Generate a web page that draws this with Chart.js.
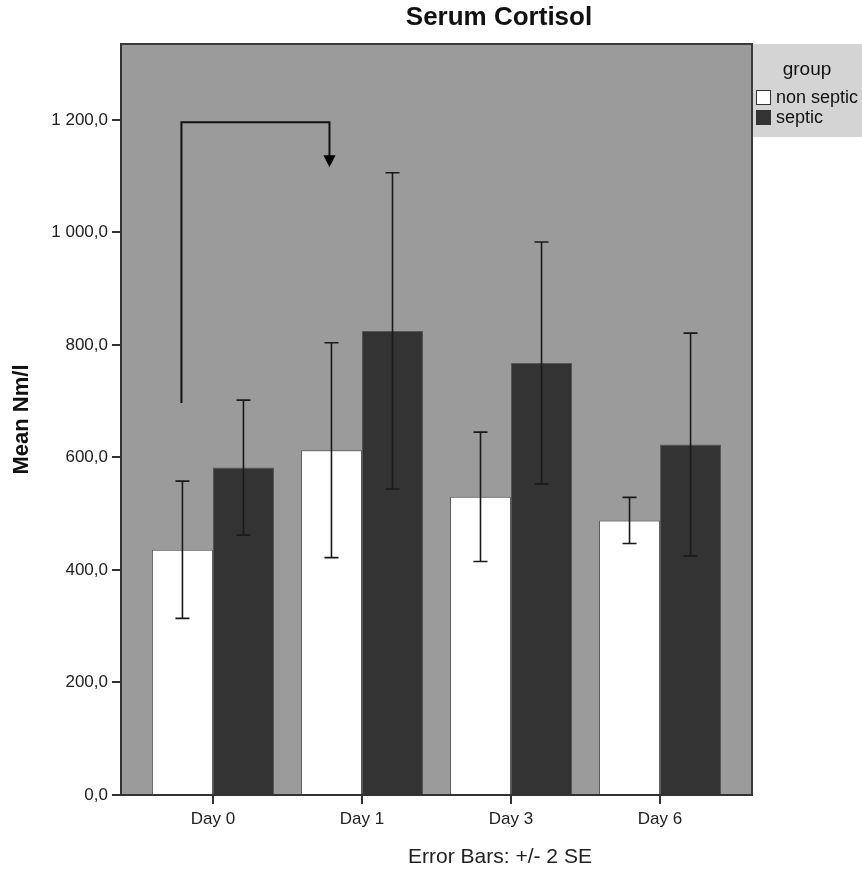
<!DOCTYPE html>
<html>
<head>
<meta charset="utf-8">
<title>Serum Cortisol</title>
<script src="https://cdn.jsdelivr.net/npm/chart.js@4.4.1/dist/chart.umd.min.js"></script>
<style>
  html, body { margin: 0; padding: 0; background: #fff; }
  #wrap { position: relative; width: 862px; height: 869px; }
</style>
</head>
<body>
<div id="wrap"><canvas id="chart"></canvas></div>
<script>
// days and group means (nmol/l) with +/- 2 SE
const days = ["Day 0", "Day 1", "Day 3", "Day 6"];
const groups = ["non septic", "septic"];
const nonSepticMean = [436, 613, 530, 488];
const nonSepticErr = [122, 191, 115, 41];
const septicMean = [582, 825, 768, 623];
const septicErr = [120, 281, 215, 198];
const yTicks = [0, 200, 400, 600, 800, 1000, 1200];

// bracket from Day 0 to Day 1 (non septic)
const bracketStart = 697;
const bracketTop = 1196;
const arrowTip = 1116;

const FONT = "'Liberation Sans', Arial, sans-serif";

function fmt(v) {
  let s = v.toFixed(1).replace(".", ",");
  let [int, dec] = s.split(",");
  int = int.replace(/\B(?=(\d{3})+(?!\d))/g, " ");
  return int + "," + dec;
}

// gray plot background
const plotBg = {
  id: "plotBg",
  beforeDraw(chart) {
    const { ctx, chartArea: a } = chart;
    ctx.save();
    ctx.fillStyle = "#9b9b9b";
    ctx.fillRect(a.left, a.top, a.right - a.left, a.bottom - a.top);
    ctx.restore();
  }
};

// error bars, bracket arrow, frame, legend and texts
const extras = {
  id: "extras",
  afterDatasetsDraw(chart) {
    const { ctx, scales: { y } } = chart;
    const errs = [nonSepticErr, septicErr];
    ctx.save();
    ctx.strokeStyle = "#1a1a1a";
    ctx.lineWidth = 1.6;
    chart.data.datasets.forEach((ds, di) => {
      const meta = chart.getDatasetMeta(di);
      meta.data.forEach((bar, i) => {
        const m = ds.data[i].y;
        const hi = y.getPixelForValue(m + errs[di][i]);
        const lo = y.getPixelForValue(m - errs[di][i]);
        ctx.beginPath();
        ctx.moveTo(bar.x, hi); ctx.lineTo(bar.x, lo);
        ctx.moveTo(bar.x - 7, hi); ctx.lineTo(bar.x + 7, hi);
        ctx.moveTo(bar.x - 7, lo); ctx.lineTo(bar.x + 7, lo);
        ctx.stroke();
      });
    });

    // bracket with arrow
    const m0 = chart.getDatasetMeta(0);
    const x0 = m0.data[0].x - 1, x1 = m0.data[1].x - 2;
    const yS = y.getPixelForValue(bracketStart);
    const yT = y.getPixelForValue(bracketTop);
    const yA = y.getPixelForValue(arrowTip);
    ctx.strokeStyle = "#111";
    ctx.lineWidth = 2;
    ctx.beginPath();
    ctx.moveTo(x0, yS); ctx.lineTo(x0, yT); ctx.lineTo(x1, yT); ctx.lineTo(x1, yA - 8);
    ctx.stroke();
    ctx.fillStyle = "#000";
    ctx.beginPath();
    ctx.moveTo(x1 - 6, yA - 12); ctx.lineTo(x1 + 6, yA - 12); ctx.lineTo(x1, yA);
    ctx.closePath();
    ctx.fill();
    ctx.restore();
  },
  afterDraw(chart) {
    const { ctx, chartArea: a } = chart;
    ctx.save();

    // legend box
    ctx.fillStyle = "#d4d4d4";
    ctx.fillRect(a.right, a.top, 862 - a.right, 93);
    ctx.fillStyle = "#111";
    ctx.font = "19px " + FONT;
    ctx.textAlign = "center";
    ctx.textBaseline = "middle";
    ctx.fillText("group", a.right + 55, a.top + 26);
    ctx.font = "18px " + FONT;
    ctx.textAlign = "left";
    chart.data.datasets.forEach((ds, i) => {
      const ty = a.top + 46 + i * 20;
      ctx.fillStyle = ds.backgroundColor;
      ctx.fillRect(a.right + 4, ty, 15, 15);
      ctx.strokeStyle = "#333";
      ctx.lineWidth = 1;
      ctx.strokeRect(a.right + 4.5, ty + 0.5, 14, 14);
      ctx.fillStyle = "#111";
      ctx.fillText(ds.label, a.right + 24, ty + 8);
    });

    // top and right frame
    ctx.strokeStyle = "#3a3a3a";
    ctx.lineWidth = 2;
    ctx.beginPath();
    ctx.moveTo(a.left, a.top); ctx.lineTo(a.right, a.top); ctx.lineTo(a.right, a.bottom);
    ctx.stroke();

    // title and footnote
    ctx.fillStyle = "#111";
    ctx.textAlign = "center";
    ctx.font = "bold 26px " + FONT;
    ctx.fillText("Serum Cortisol", 499, 18);
    ctx.fillStyle = "#222";
    ctx.font = "21px " + FONT;
    ctx.fillText("Error Bars: +/- 2 SE", 500, 857);
    ctx.restore();
  }
};

new Chart(document.getElementById("chart"), {
  type: "bar",
  data: {
    datasets: [
      {
        label: groups[0],
        data: nonSepticMean.map((v, i) => ({ x: i, y: v })),
        backgroundColor: "#ffffff",
        borderColor: "#5a5a5a",
        borderWidth: 1
      },
      {
        label: groups[1],
        data: septicMean.map((v, i) => ({ x: i, y: v })),
        backgroundColor: "#333333",
        borderColor: "#555555",
        borderWidth: 1
      }
    ]
  },
  options: {
    responsive: true,
    maintainAspectRatio: false,
    animation: false,
    layout: { padding: { top: 44, right: 110, left: 0, bottom: 0 } },
    categoryPercentage: 0.819,
    barPercentage: 1,
    plugins: {
      legend: { display: false },
      tooltip: { enabled: false }
    },
    scales: {
      x: {
        type: "linear",
        offset: false,
        min: -0.617,
        max: 3.617,
        afterBuildTicks: s => { s.ticks = days.map((d, i) => ({ value: i })); },
        afterFit: s => { s.height = 74; },
        grid: { offset: false, drawOnChartArea: false, drawTicks: true, tickLength: 9, color: "#333", lineWidth: 2 },
        border: { display: true, color: "#333", width: 2 },
        ticks: {
          padding: 5,
          color: "#222",
          font: { family: FONT, size: 17 },
          callback: v => days[v]
        }
      },
      y: {
        min: 0,
        max: 1335,
        afterBuildTicks: s => { s.ticks = yTicks.map(v => ({ value: v })); },
        afterFit: s => { s.width = 121; },
        grid: { drawOnChartArea: false, drawTicks: true, tickLength: 9, color: "#333", lineWidth: 2 },
        border: { display: true, color: "#333", width: 2 },
        ticks: {
          padding: 4,
          color: "#222",
          font: { family: FONT, size: 17 },
          callback: v => fmt(v)
        },
        title: {
          display: true,
          text: "Mean Nm/l",
          color: "#111",
          font: { family: FONT, size: 22, weight: "bold" },
          padding: { top: 9, bottom: 0 }
        }
      }
    }
  },
  plugins: [plotBg, extras]
});
</script>
</body>
</html>
